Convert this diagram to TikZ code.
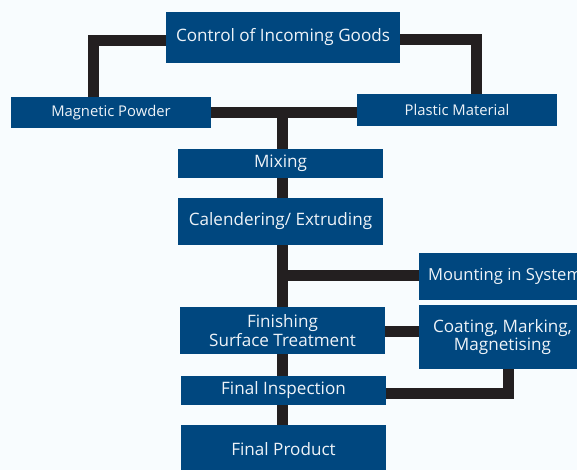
\documentclass[tikz,border=0pt]{standalone}
\usepackage{fontspec}
\setmainfont{Open Sans}
\usetikzlibrary{backgrounds}
\definecolor{boxblue}{HTML}{00477F}
\definecolor{boxtext}{HTML}{EEF3F8}
\definecolor{linecol}{HTML}{231F20}
\definecolor{bgcol}{HTML}{F8FCFE}
\tikzset{
  box/.style={fill=boxblue, text=boxtext, inner sep=0pt, align=center,
    font=\fontsize{17.1}{16}\selectfont},
  smallbox/.style={box, font=\fontsize{14.8}{16}\selectfont},
  conn/.style={draw=linecol, line width=11pt, line join=miter}
}
\begin{document}
\begin{tikzpicture}[x=1pt, y=-1pt]
\useasboundingbox (0,0) rectangle (577,470);
\clip (0,0) rectangle (577,470);

\node[box, minimum width=234pt, minimum height=51pt] (ctrl) at (283,37.5) {Control of Incoming Goods};
\node[smallbox, minimum width=200pt, minimum height=31pt] (mag) at (111,112.5) {Magnetic Powder};
\node[smallbox, minimum width=200pt, minimum height=32pt] (plas) at (457,110) {Plastic Material};
\node[box, minimum width=205pt, minimum height=29pt] (mix) at (280.5,163.5) {Mixing};
\node[box, minimum width=205pt, minimum height=47pt] (cal) at (280.5,221.5) {Calendering/ Extruding};
\node[box, minimum width=170pt, minimum height=47pt, anchor=west, inner xsep=9pt, align=left, font=\fontsize{16.6}{16}\selectfont] (mount) at (419,276.5) {Mounting in System};
\node[box, minimum width=205pt, minimum height=47pt, font=\fontsize{17.1}{15.7}\selectfont] (fin) at (282.5,330.5) {Finishing\\Surface Treatment};
\node[box, minimum width=167pt, minimum height=64pt, font=\fontsize{17.1}{17.7}\selectfont] (coat) at (502.5,337) {Coating, Marking,\\Magnetising};
\node[box, minimum width=205pt, minimum height=29pt] (insp) at (283.5,390.5) {Final Inspection};
\node[box, minimum width=205pt, minimum height=48pt] (prod) at (283.5,449) {Final Product};

\begin{pgfonlayer}{background}
\fill[bgcol] (0,0) rectangle (577,470);
\draw[conn] ([yshift=-3.5pt]ctrl.west) -| ([xshift=-17.5pt]mag.north);
\draw[conn] ([yshift=-2.5pt]ctrl.east) -| ([xshift=19.5pt]plas.north);
\draw[conn] (mag.east) -- (plas.west |- mag.east);
\coordinate (j1) at (282.5,112.5);
\coordinate (j2) at (282.5,275.5);
\draw[conn] (j1) -- (j1 |- mix.north);
\draw[conn] (j1 |- mix.south) -- (j1 |- cal.north);
\draw[conn] (j1 |- cal.south) -- (j1 |- fin.north);
\draw[conn] (j2) -- (mount.west |- j2);
\draw[conn] (j1 |- fin.south) -- (j1 |- insp.north);
\draw[conn] (j1 |- insp.south) -- (j1 |- prod.north);
\draw[conn] (fin.east |- 0,331.5) -- (coat.west |- 0,331.5);
\draw[conn] (insp.east |- 0,393.5) -| ([xshift=5.5pt]coat.south);
\end{pgfonlayer}
\end{tikzpicture}
\end{document}
